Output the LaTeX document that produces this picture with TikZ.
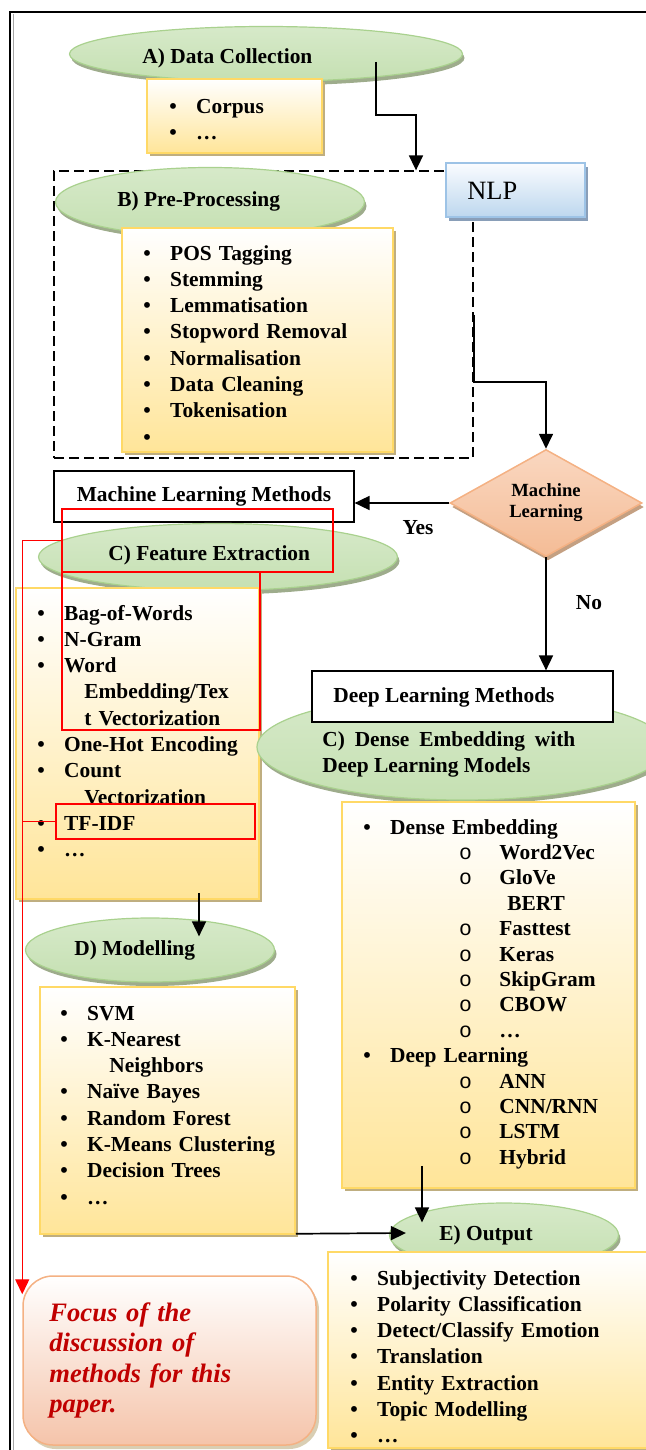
\documentclass[tikz,border=0pt]{standalone}
\usepackage{fontspec}
\setmainfont{Liberation Serif}
\setmonofont{Liberation Mono}
\usetikzlibrary{shapes.geometric, shadows, arrows.meta}

\definecolor{phasetop}{RGB}{230,242,222}
\definecolor{phasebot}{RGB}{197,224,178}
\definecolor{phaseedge}{RGB}{169,209,142}
\definecolor{phaseshade}{RGB}{158,172,140}
\definecolor{boxbot}{RGB}{255,229,153}
\definecolor{boxedge}{RGB}{255,217,102}
\definecolor{boxshade}{RGB}{191,174,128}
\definecolor{nlptop}{RGB}{250,252,255}
\definecolor{nlpbot}{RGB}{189,215,238}
\definecolor{nlpedge}{RGB}{157,195,230}
\definecolor{nlpshade}{RGB}{137,158,184}
\definecolor{decitop}{RGB}{250,215,192}
\definecolor{decimid}{RGB}{252,232,220}
\definecolor{decibot}{RGB}{244,188,150}
\definecolor{deciedge}{RGB}{244,177,131}
\definecolor{decishade}{RGB}{196,160,130}
\definecolor{focusbot}{RGB}{245,196,170}
\definecolor{focusedge}{RGB}{244,177,131}
\definecolor{focustext}{RGB}{192,0,0}
\definecolor{focusred}{RGB}{255,0,0}

\newcommand{\lbul}{\makebox[13.4pt][l]{\textbullet}}
\newcommand{\lsub}{\hspace*{47.8pt}\makebox[20.2pt][l]{\ttfamily\mdseries o}}

\begin{document}
\begin{tikzpicture}[
    x=0.5pt, y=-0.5pt,
    every node/.style={inner sep=0pt, font=\fontsize{10.7}{13.15}\selectfont\bfseries},
    phase/.style={ellipse, draw=phaseedge, line width=0.6pt,
      top color=phasebot!70, middle color=phasetop, bottom color=phasebot,
      drop shadow={shadow xshift=1pt, shadow yshift=-2pt, fill=phaseshade, opacity=1}},
    listbox/.style={rectangle, draw=boxedge, line width=0.75pt,
      top color=white, bottom color=boxbot,
      drop shadow={shadow xshift=1.5pt, shadow yshift=-1.5pt, fill=boxshade, opacity=1}},
    items/.style={anchor=base west, text width=#1, align=left},
    methodbox/.style={rectangle, draw, line width=0.6pt, fill=white},
    flow/.style={line width=0.85pt, -{Triangle[length=7.5pt, width=7pt]}},
    focusmark/.style={rectangle, draw=focusred, line width=0.75pt},
    focusline/.style={draw=focusred, line width=0.7pt}
  ]
  \useasboundingbox (0,0) rectangle (646,1450);
  \draw[line width=0.6pt] (10,1452) |- (648,12);
  \draw[gray!70, line width=0.4pt] (13,1452) -- (13,14);

  % data collection
  \node (collect) [phase, minimum width=196.5pt, minimum height=27.5pt] at (266,54) {};
  \node (collect text) [anchor=base west] at (142,64) {A) Data Collection};
  \node (corpusbox) [listbox, minimum width=87.5pt, minimum height=37pt] at (234.5,116) {};
  \node (corpus) [items=70pt] at (169,113) {\lbul Corpus\\ \lbul …};

  % pre-processing inside the NLP group
  \node (nlpgroup) [draw, dash pattern=on 5pt off 2.5pt, line width=0.65pt,
    minimum width=209.5pt, minimum height=143.5pt] at (263.5,314.5) {};
  \node (nlp) [rectangle, draw=nlpedge, line width=0.75pt, top color=nlptop, bottom color=nlpbot,
    drop shadow={shadow xshift=1.5pt, shadow yshift=-2pt, fill=nlpshade, opacity=1},
    minimum width=69.5pt, minimum height=27pt] at (515.5,190) {};
  \node (nlp text) [anchor=base west, font=\fontsize{13.2}{15}\selectfont] at (467,199) {NLP};
  \node (prep) [phase, minimum width=154.5pt, minimum height=34.5pt] at (210,202) {};
  \node (prep text) [anchor=base west] at (117,206) {B) Pre-Processing};
  \node (prepbox) [listbox, minimum width=135.5pt, minimum height=112pt] at (257.5,340) {};
  \node (prepitems) [items=120pt] at (143,260) {\lbul POS Tagging\\ \lbul Stemming\\
    \lbul Lemmatisation\\ \lbul Stopword Removal\\ \lbul Normalisation\\
    \lbul Data Cleaning\\ \lbul Tokenisation\\ \lbul};

  % decision
  \node (ml) [diamond, aspect=1.8, draw=deciedge, line width=0.75pt,
    top color=decitop, middle color=decimid, bottom color=decibot,
    drop shadow={shadow xshift=1pt, shadow yshift=-2pt, fill=decishade, opacity=1},
    minimum width=96pt, minimum height=53.5pt, align=center,
    font=\fontsize{9.3}{10.5}\selectfont\bfseries] at (546,503) {Machine\\Learning};
  \node (mlm) [methodbox, minimum width=150pt, minimum height=25.5pt] at (204,496.5) {Machine Learning Methods};
  \node (yes) at (418,528) {Yes};
  \node (no) at (589,603) {No};

  % feature extraction
  \node (feat) [phase, minimum width=179.5pt, minimum height=33.5pt] at (218,557) {};
  \node (feat text) [anchor=base west] at (108,560) {C) Feature Extraction};
  \node (featbox) [listbox, minimum width=121.5pt, minimum height=155.5pt] at (137.5,743.5) {};
  \node (featitems) [items=115pt] at (37,620) {\lbul Bag-of-Words\\ \lbul N-Gram\\ \lbul Word\\
    \hspace*{23.5pt}Embedding/Tex\\ \hspace*{23.5pt}t Vectorization\\ \lbul One-Hot Encoding\\
    \lbul Count\\ \hspace*{23.5pt}Vectorization\\ \lbul TF-IDF\\ \lbul …};

  % deep learning
  \node (dense) [phase, minimum width=205pt, minimum height=53pt] at (462,747) {};
  \node (dlm) [methodbox, minimum width=150.5pt, minimum height=25.5pt] at (462.5,696.5) {};
  \node (dlm text) [anchor=base west] at (333,702) {Deep Learning Methods};
  \node (dense text) [anchor=base west, text width=126.5pt, align=justify] at (322,746)
    {C) Dense Embedding with Deep Learning Models};
  \node (densebox) [listbox, minimum width=146.5pt, minimum height=193pt] at (488.5,995) {};
  \node (denseitems) [items=140pt, font=\fontsize{10.7}{12.7}\selectfont\bfseries] at (363,834)
    {\lbul Dense Embedding\\ \lsub Word2Vec\\ \lsub GloVe\\ \hspace*{72pt}BERT\\
    \lsub Fasttest\\ \lsub Keras\\ \lsub SkipGram\\ \lsub CBOW\\ \lsub …\\
    \lbul Deep Learning\\ \lsub ANN\\ \lsub CNN/RNN\\ \lsub LSTM\\ \lsub Hybrid};

  % modelling
  \node (model) [phase, minimum width=124.5pt, minimum height=32pt] at (150,950) {};
  \node (model text) [anchor=base west] at (74,955) {D) Modelling};
  \node (modelbox) [listbox, minimum width=127.5pt, minimum height=123.5pt] at (167.5,1110.5) {};
  \node (modelitems) [items=120pt] at (60,1020) {\lbul SVM\\ \lbul K-Nearest\\
    \hspace*{24.5pt}Neighbors\\ \lbul Naïve Bayes\\ \lbul Random Forest\\
    \lbul K-Means Clustering\\ \lbul Decision Trees\\ \lbul …};

  % output
  \node (output) [phase, minimum width=114.5pt, minimum height=32pt] at (504,1235) {};
  \node (output text) [anchor=base west] at (439,1240) {E) Output};
  \node (outbox) [listbox, minimum width=160pt, minimum height=98pt] at (488,1350) {};
  \node (outitems) [items=150pt] at (350,1285) {\lbul Subjectivity Detection\\
    \lbul Polarity Classification\\ \lbul Detect/Classify Emotion\\ \lbul Translation\\
    \lbul Entity Extraction\\ \lbul Topic Modelling\\ \lbul …};

  % focus note
  \node (focus) [rectangle, rounded corners=15pt, draw=focusedge, line width=0.75pt,
    top color=white, bottom color=focusbot,
    drop shadow={shadow xshift=1.5pt, shadow yshift=-2pt, fill=boxshade!60, opacity=1},
    minimum width=146.5pt, minimum height=84.5pt] at (169.5,1360.5) {};
  \node (focus text) [anchor=base west, text width=130pt, align=left, text=focustext,
    font=\fontsize{13.3}{15.3}\selectfont\bfseries\itshape] at (49,1321)
    {Focus of the\\ discussion of\\ methods for this\\ paper.};

  % red marks
  \node (mlfocus) [focusmark, minimum width=135.5pt, minimum height=31.5pt] at (197.5,540.5) {};
  \node (wordemb) [focusmark, minimum width=99pt, minimum height=79pt] at (161,651) {};
  \node (tfidf) [focusmark, minimum width=99.5pt, minimum height=17.5pt] at (155.5,821.5) {};

  % connectors
  \coordinate (collect out) at (376,62);
  \draw[flow] (collect out) |- (416,115) -- (nlpgroup.north -| 416,0);
  \draw[flow] (nlpgroup.east) -- (nlpgroup.east |- 0,382) -| (ml.north);
  \draw[flow] (ml.west) -- (ml.west -| mlm.east);
  \draw[flow] (ml.south) -- (ml.south |- dlm.north);
  \draw[flow] ([xshift=30.75pt, yshift=3.5pt]featbox.south) -- ([xshift=24.5pt, yshift=-9.5pt]model.north);
  \draw[flow] ([xshift=-33.25pt, yshift=11.5pt]densebox.south) -- ([xshift=-41pt, yshift=-10pt]output.north);
  \draw[flow] ([yshift=0.5pt]modelbox.south east) -- ([xshift=8.5pt, yshift=1pt]output.west);
  \draw[focusline, -{Triangle[length=7.5pt, width=7pt]}] (mlfocus.west) -| ([yshift=-9.5pt]focus.north west);
  \draw[focusline] (tfidf.west) -- (tfidf.west -| focus.west);
\end{tikzpicture}
\end{document}
